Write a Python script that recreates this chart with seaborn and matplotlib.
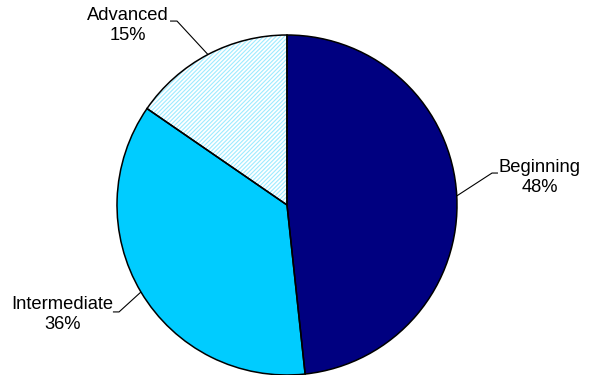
import numpy as np
import matplotlib
matplotlib.use("Agg")
import matplotlib.pyplot as plt
from matplotlib.patches import Wedge
import seaborn as sns

# ---- data ----
categories = ["Beginning", "Intermediate", "Advanced"]
values = [48.3, 36.3, 15.4]
pct_labels = ["48%", "36%", "15%"]
colors = ["#000080", "#00CCFF", "#FFFFFF"]
hatches = [None, None, "////////"]

sns.set_theme(style="white")
plt.rcParams["font.family"] = ["Liberation Sans", "DejaVu Sans"]
plt.rcParams["hatch.linewidth"] = 0.8

fig = plt.figure(figsize=(5.89, 3.75), dpi=100)
ax = fig.add_axes([0, 0, 1, 1])
ax.axis("off")

wedges, _ = ax.pie(values, colors=colors, startangle=90, counterclock=False,
                   radius=1.0, center=(0, 0), frame=False,
                   wedgeprops=dict(edgecolor="none", linewidth=0))
ax.set_xlim(-287 / 170, (589 - 287) / 170)
ax.set_ylim((205 - 375) / 170, 205 / 170)
ax.set_aspect("auto")

# hatch overlay
for w, h in zip(wedges, hatches):
    w.set_clip_on(False)
    if h:
        hw = Wedge(w.center, w.r, w.theta1, w.theta2, fill=False, hatch=h,
                   edgecolor="#9EEBFF", linewidth=0, zorder=2, clip_on=False)
        ax.add_patch(hw)
# black outlines on top
for w in wedges:
    ow = Wedge(w.center, w.r, w.theta1, w.theta2, fill=False,
               edgecolor="black", linewidth=1.1, zorder=3, clip_on=False)
    ax.add_patch(ow)

# label layout (text center, elbow point, horizontal end)
layout = {
    "Beginning": dict(text=(1.485, 0.160), elbow=(1.206, 0.188), end=(1.241, 0.188)),
    "Intermediate": dict(text=(-1.321, -0.645), elbow=(-0.988, -0.629), end=(-1.024, -0.629)),
    "Advanced": dict(text=(-0.935, 1.055), elbow=(-0.647, 1.082), end=(-0.688, 1.082)),
}

for w, cat, pl in zip(wedges, categories, pct_labels):
    ang = np.deg2rad((w.theta1 + w.theta2) / 2)
    sx, sy = np.cos(ang) * w.r, np.sin(ang) * w.r
    lo = layout[cat]
    ex, ey = lo["elbow"]
    hx, hy = lo["end"]
    ax.plot([sx, ex, hx], [sy, ey, hy], color="black", lw=0.8, zorder=4,
            clip_on=False, solid_capstyle="butt")
    ax.text(lo["text"][0], lo["text"][1], f"{cat}\n{pl}", ha="center", va="center",
            multialignment="center", fontsize=13.2, color="black", linespacing=1.2)

fig.savefig("out.png", dpi=100)
